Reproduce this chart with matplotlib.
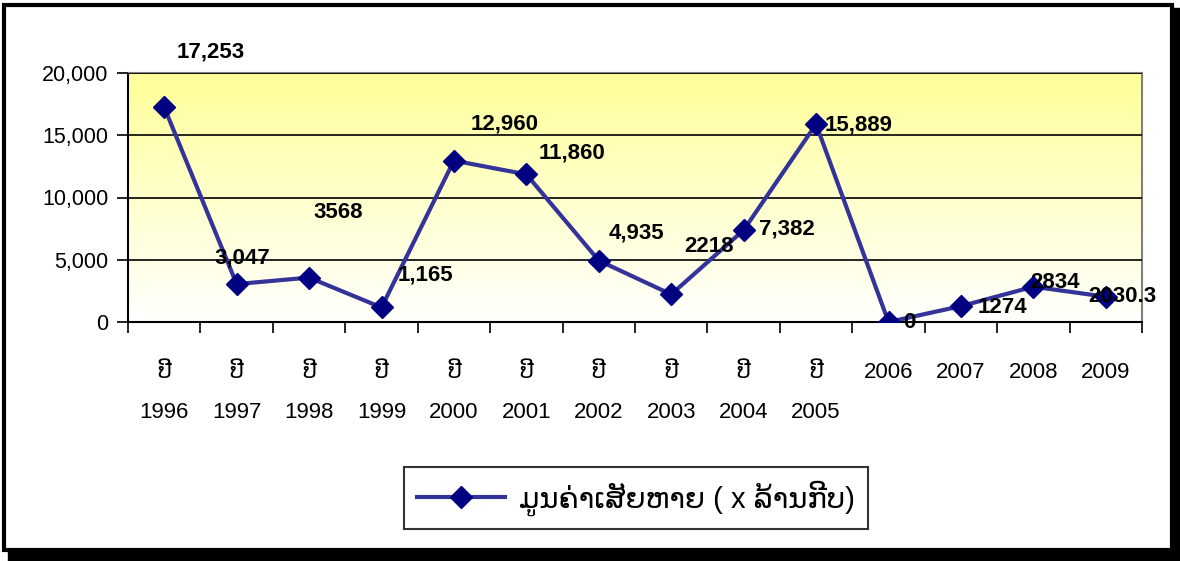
import matplotlib.pyplot as plt
import matplotlib.patches as patches
import numpy as np
from matplotlib.ticker import FuncFormatter, MultipleLocator, FixedLocator

FONT = ['Liberation Sans', 'DejaVu Sans']
plt.rcParams['font.family'] = FONT

years = ['1996', '1997', '1998', '1999', '2000', '2001', '2002',
         '2003', '2004', '2005', '2006', '2007', '2008', '2009']
lao_year = 'ປີ'
n_lao = 10  # first ten ticks carry the Lao word for "year"
values = [17253, 3047, 3568, 1165, 12960, 11860, 4935,
          2218, 7382, 15889, 0, 1274, 2834, 2030.3]
value_labels = ['17,253', '3,047', '3568', '1,165', '12,960', '11,860', '4,935',
                '2218', '7,382', '15,889', '0', '1274', '2834', '2030.3']
legend_label = 'ມູນຄ່າເສັຍຫາຍ ( x ລ້ານກີບ)'

# label offsets in pixels (dx right, dy up) - Excel put them all over the place
label_offsets = [(46, 55), (6, 26), (29, 65), (44, 32), (51, 37), (46, 21), (38, 28),
                 (38, 48), (43, 1), (43, -1), (21, 0), (42, -1), (22, 4), (17, 0)]

DPI = 100
fig = plt.figure(figsize=(11.8, 5.61), dpi=DPI)
ax = fig.add_axes([128/1180, 1 - 322/561, 1014/1180, 249/561])

# yellow -> white gradient behind the plot
grad = np.linspace(0, 1, 256).reshape(-1, 1)
top = np.array([1.0, 1.0, 0.60])
bot = np.array([1.0, 1.0, 1.0])
img = top[None, None, :] * (1 - grad[:, :, None]) + bot[None, None, :] * grad[:, :, None]
ax.imshow(img, extent=[0, 1, 0, 1], transform=ax.transAxes, aspect='auto', zorder=0)

x = np.arange(len(years))
ax.plot(x, values, color='#333399', lw=3, marker='D', ms=11,
        mfc='#000080', mec='#000080', zorder=3, label=legend_label)

for xi, v, lab, (dx, dy) in zip(x, values, value_labels, label_offsets):
    ax.annotate(lab, (xi, v), xytext=(dx * 72 / DPI, dy * 72 / DPI),
                textcoords='offset points', ha='center', va='center',
                fontsize=16, fontweight='bold', color='black', zorder=4,
                annotation_clip=False)

ax.set_xlim(-0.5, len(years) - 0.5)
ax.set_ylim(0, 20000)
ax.yaxis.set_major_locator(MultipleLocator(5000))
ax.yaxis.set_major_formatter(FuncFormatter(lambda v, p: f'{int(v):,}'))
ax.grid(axis='y', color='black', lw=1.2, zorder=1)
ax.set_axisbelow(False)

tick_labels = [f'{lao_year}\n{y}' if i < n_lao else y for i, y in enumerate(years)]
ax.set_xticks(x)
ax.set_xticklabels(tick_labels, linespacing=2.2, va='top')
ax.xaxis.set_minor_locator(FixedLocator(np.arange(-0.5, len(years), 1)))
ax.tick_params(axis='x', which='major', length=0, pad=29, labelsize=16)
ax.tick_params(axis='x', which='minor', length=8, width=1.2, direction='out')
ax.tick_params(axis='y', length=8, width=1.2, labelsize=15.5, pad=6)

for s in ['top', 'right']:
    ax.spines[s].set_color('#808080')
    ax.spines[s].set_linewidth(1.5)
for s in ['left', 'bottom']:
    ax.spines[s].set_color('black')
    ax.spines[s].set_linewidth(1.5)

leg = fig.legend(loc='center', bbox_to_anchor=(636/1180, 1 - 498/561),
                 fontsize=21, frameon=True, fancybox=False, edgecolor='black',
                 handlelength=3.0, handletextpad=0.5, borderpad=0.45)
leg.get_frame().set_linewidth(1.5)

# outer chart frame with heavy shadow on the right and bottom
fig.patches.append(patches.Rectangle((1172/1180, 0), 8/1180, 1 - 8/561,
                                     transform=fig.transFigure, color='black', zorder=0))
fig.patches.append(patches.Rectangle((8/1180, 0), 1 - 8/1180, 11/561,
                                     transform=fig.transFigure, color='black', zorder=0))
fig.patches.append(patches.Rectangle((4/1180, 11/561), 1168/1180, 1 - 16/561,
                                     transform=fig.transFigure, fill=False,
                                     edgecolor='black', lw=3, zorder=0))

fig.savefig('out.png', dpi=DPI)
